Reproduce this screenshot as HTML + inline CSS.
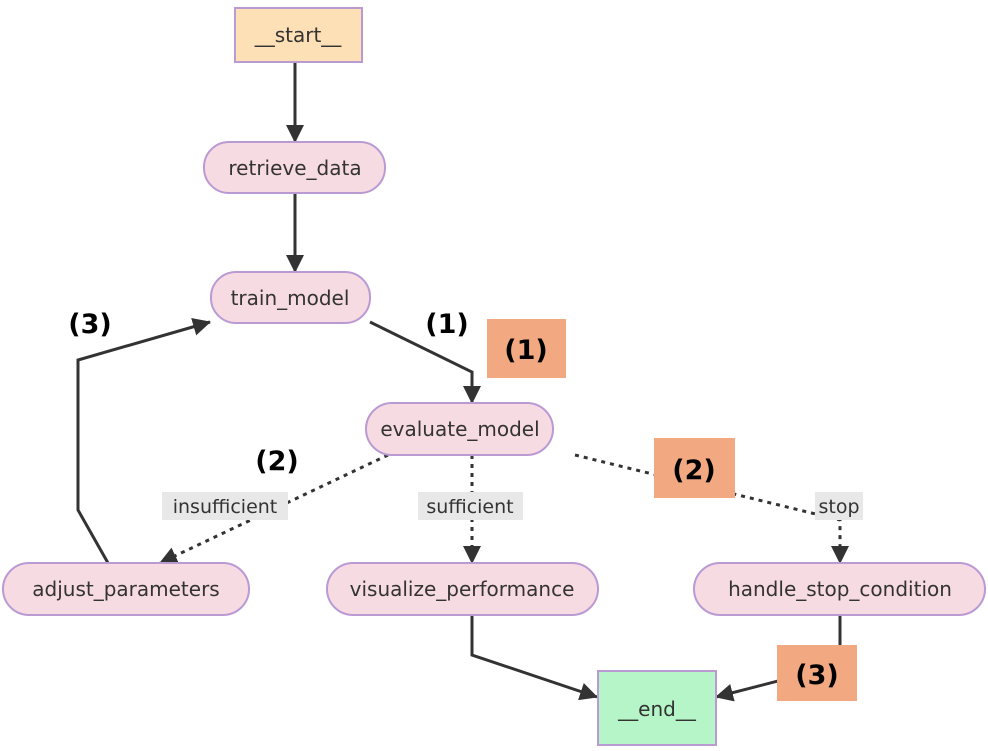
<!DOCTYPE html>
<html><head><style>
body{margin:0;background:#fff;width:988px;height:751px;overflow:hidden;font-family:"DejaVu Sans","Liberation Sans",sans-serif}
svg{position:absolute;left:0;top:0}
</style></head><body>
<svg width="988" height="751" viewBox="0 0 988 751">
<defs>
<marker id="a" markerWidth="10" markerHeight="10" refX="9" refY="5" orient="auto" markerUnits="userSpaceOnUse" viewBox="0 0 10 10"><path d="M0,0 L10,5 L0,10 z" fill="#333"/></marker>
<marker id="b" markerWidth="18" markerHeight="18" refX="17" refY="9" orient="auto" markerUnits="userSpaceOnUse" viewBox="0 0 18 18"><path d="M0,0 L18,9 L0,18 z" fill="#333"/></marker>
</defs>
<g fill="none" stroke="#333" stroke-width="3">
<path d="M295,62 V142" marker-end="url(#b)"/>
<path d="M295,193 V272" marker-end="url(#b)"/>
<path d="M370,322 L472,372 V403" marker-end="url(#b)"/>
<path d="M108,563 L78,510 V360 L210,322" marker-end="url(#b)"/>
<path d="M472,615 V655 L597,697" marker-end="url(#b)"/>
<path d="M840,615 V665 L716,697" marker-end="url(#b)"/>
<g stroke-dasharray="4,5">
<path d="M388,455 L160,563" marker-end="url(#b)"/>
<path d="M472,455 V563" marker-end="url(#b)"/>
<path d="M575,455 L840,520 V563" marker-end="url(#b)"/>
</g>
</g>
<g fill="#e8e8e8">
<rect x="162" y="492" width="126" height="28"/>
<rect x="418" y="492" width="105" height="28"/>
<rect x="815" y="492" width="48" height="28"/>
</g>
<g font-size="19" fill="#333" text-anchor="middle">
<text x="225" y="513">insufficient</text>
<text x="470" y="513">sufficient</text>
<text x="839" y="513">stop</text>
</g>
<g stroke="#b99ad3" stroke-width="2">
<rect x="235" y="8" width="127" height="54" fill="#fde0b6"/>
<rect x="204" y="142" width="181" height="51" rx="25" fill="#f7dbe3"/>
<rect x="211" y="272" width="159" height="51" rx="25" fill="#f7dbe3"/>
<rect x="366" y="403" width="187" height="52" rx="26" fill="#f7dbe3"/>
<rect x="3" y="563" width="246" height="52" rx="26" fill="#f7dbe3"/>
<rect x="327" y="563" width="271" height="52" rx="26" fill="#f7dbe3"/>
<rect x="694" y="563" width="291" height="52" rx="26" fill="#f7dbe3"/>
<rect x="598" y="671" width="118" height="74" fill="#b5f5c8"/>
</g>
<g font-size="20" fill="#333" text-anchor="middle">
<text x="298" y="42">__start__</text>
<text x="295" y="175">retrieve_data</text>
<text x="290" y="305">train_model</text>
<text x="460" y="436">evaluate_model</text>
<text x="126" y="596">adjust_parameters</text>
<text x="462" y="596">visualize_performance</text>
<text x="840" y="596">handle_stop_condition</text>
<text x="657" y="716">__end__</text>
</g>
<g fill="#f2a880">
<rect x="487" y="319" width="79" height="59"/>
<rect x="654" y="438" width="81" height="60"/>
<rect x="777" y="645" width="80" height="56"/>
</g>
<g font-size="27" font-weight="bold" fill="#000" text-anchor="middle">
<text x="526" y="359">(1)</text>
<text x="694" y="479">(2)</text>
<text x="817" y="684">(3)</text>
<text x="90" y="333">(3)</text>
<text x="447" y="333">(1)</text>
<text x="277" y="470">(2)</text>
</g>
</svg>
</body></html>
